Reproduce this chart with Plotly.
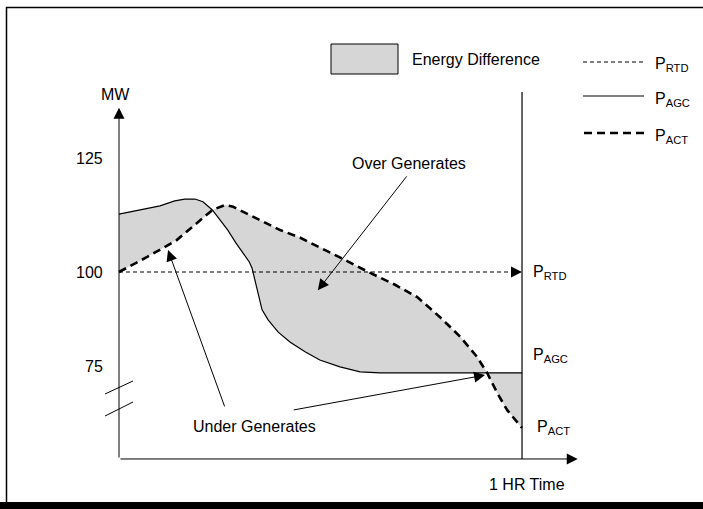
import plotly.graph_objects as go

# ---------------- data (time in minutes, power in MW) ----------------
t_agc = [0, 3.1, 6.1, 8.3, 9.8, 11.3, 12.5, 13.9, 15.0, 16.2, 17.4, 18.5, 19.4, 19.8,
         20.3, 20.7, 21.3, 22.2, 23.7, 25.5, 27.7, 29.9, 32.9, 35.9, 38.9, 54.8, 60]
p_agc = [112.7, 113.6, 114.5, 115.6, 116.0, 116.0, 115.4, 113.6, 111.4, 109.2, 106.4, 104.2,
         102.2, 100.9, 97.6, 95.0, 91.7, 89.5, 86.8, 84.6, 82.5, 80.7, 79.2, 78.1, 77.9, 77.9, 77.9]

t_act = [0, 4.2, 8.6, 11.3, 13.9, 15.8, 17.0, 20.0, 24.0, 27.0, 31.4, 33.7, 37.4, 41.1,
         44.4, 47.8, 50.8, 53.3, 54.8, 56.3, 57.8, 60]
p_act = [100.0, 103.3, 107.0, 110.3, 113.6, 114.7, 114.3, 112.1, 109.2, 107.5, 104.4, 102.6,
         99.8, 97.2, 94.5, 90.1, 85.8, 81.4, 77.9, 73.5, 69.7, 65.8]

p_rtd = 100
t_end = 60
ytick_text = ["125", "100", "75"]
ytick_pos = [125, 100, 79.2]

# ---------------- layout helpers ----------------
W, H = 703, 509
FONT = "Liberation Sans, Arial, sans-serif"
X_RANGE = [-17.716, 86.944]
Y_RANGE = [48.03, 159.65]
Y_BASE = 59.0
Y_TOP = 136.0
X_TIP = 68.3


def px(xp):
    return xp / W


def py(yp):
    return 1 - yp / H


fig = go.Figure()

# energy difference fill between AGC and ACT
fig.add_trace(go.Scatter(
    x=t_agc + t_act[::-1], y=p_agc + p_act[::-1],
    fill="toself", fillcolor="#d6d6d6", mode="none", hoverinfo="skip"))

# P_RTD
fig.add_trace(go.Scatter(x=[0, t_end - 1.5], y=[p_rtd, p_rtd], mode="lines",
                         line=dict(color="black", width=1, dash="4px,3px")))
# P_AGC
fig.add_trace(go.Scatter(x=t_agc, y=p_agc, mode="lines",
                         line=dict(color="black", width=1.2)))
# P_ACT
fig.add_trace(go.Scatter(x=t_act, y=p_act, mode="lines",
                         line=dict(color="black", width=2.6, dash="8px,5px")))

shapes = []
# 1 HR vertical line
shapes.append(dict(type="line", xref="x", yref="y", x0=t_end, x1=t_end, y0=Y_BASE, y1=139.5,
                   line=dict(color="black", width=1.2)))
# axis break slashes
for y0, y1 in [(73.25, 76.1), (68.42, 71.49)]:
    shapes.append(dict(type="line", xref="x", yref="y", x0=-2.08, x1=2.08, y0=y0, y1=y1,
                       line=dict(color="black", width=1)))
# frame
shapes.append(dict(type="line", xref="paper", yref="paper", x0=px(6.5), x1=px(6.5),
                   y0=py(7), y1=py(502), line=dict(color="black", width=1.5)))
shapes.append(dict(type="line", xref="paper", yref="paper", x0=px(6), x1=1,
                   y0=py(7.5), y1=py(7.5), line=dict(color="black", width=1.5)))
shapes.append(dict(type="rect", xref="paper", yref="paper", x0=0, x1=1,
                   y0=0, y1=py(502), fillcolor="black", line=dict(width=0)))
# legend
shapes.append(dict(type="rect", xref="paper", yref="paper", x0=px(331), x1=px(398),
                   y0=py(74), y1=py(44), fillcolor="#d6d6d6", line=dict(color="black", width=1)))
shapes.append(dict(type="line", xref="paper", yref="paper", x0=px(583), x1=px(643),
                   y0=py(62), y1=py(62), line=dict(color="black", width=1, dash="4px,3px")))
shapes.append(dict(type="line", xref="paper", yref="paper", x0=px(583), x1=px(644),
                   y0=py(96), y1=py(96), line=dict(color="black", width=1.2)))
shapes.append(dict(type="line", xref="paper", yref="paper", x0=px(584), x1=px(646),
                   y0=py(133), y1=py(133), line=dict(color="black", width=2.6, dash="8px,5px")))

ann = []


def arrow(x, y, ax, ay, size=2.2):
    ann.append(dict(x=x, y=y, ax=ax, ay=ay, xref="x", yref="y", axref="x", ayref="y",
                    text="", showarrow=True, arrowhead=2, arrowsize=size, arrowwidth=1,
                    arrowcolor="black", standoff=0, startstandoff=0))


# axes
arrow(0, Y_TOP, 0, Y_BASE)
arrow(X_TIP, Y_BASE, 0, Y_BASE)
# RTD arrowhead
arrow(t_end, p_rtd, t_end - 1.8, p_rtd)
# pointer arrows
arrow(29.6, 96.0, 43.0, 121.3)
arrow(7.3, 104.8, 15.8, 70.2)
arrow(54.5, 77.4, 25.8, 69.7)


def text(x, y, s, xanchor="center", xref="x", yref="y", size=16):
    ann.append(dict(x=x, y=y, xref=xref, yref=yref, text=s, showarrow=False,
                    xanchor=xanchor, yanchor="middle",
                    font=dict(family=FONT, size=size, color="black")))


for lab, pos in zip(ytick_text, ytick_pos):
    ann.append(dict(x=0, y=pos, xref="x", yref="y", text=lab, showarrow=False,
                    xanchor="right", yanchor="middle", xshift=-14,
                    font=dict(family=FONT, size=16, color="black")))
ann.append(dict(x=0, y=139.0, xref="x", yref="y", text="MW", showarrow=False,
                xanchor="center", yanchor="middle", xshift=-4,
                font=dict(family=FONT, size=16, color="black")))

text(43.2, 123.7, "Over Generates")
text(20.1, 66.2, "Under Generates")
text(66.7, 53.3, "1 HR Time", xanchor="right")
text(61.3, 99.8, "P<sub>RTD</sub>", xanchor="left")
text(61.3, 81.6, "P<sub>AGC</sub>", xanchor="left")
text(61.9, 66.0, "P<sub>ACT</sub>", xanchor="left")

# legend text
text(px(410), py(59), "Energy Difference", xanchor="left", xref="paper", yref="paper")
text(px(653), py(64), "P<sub>RTD</sub>", xanchor="left", xref="paper", yref="paper")
text(px(653), py(99), "P<sub>AGC</sub>", xanchor="left", xref="paper", yref="paper")
text(px(653), py(136), "P<sub>ACT</sub>", xanchor="left", xref="paper", yref="paper")

fig.update_layout(
    width=W, height=H, margin=dict(l=0, r=0, t=0, b=0),
    paper_bgcolor="white", plot_bgcolor="white", showlegend=False,
    xaxis=dict(range=X_RANGE, visible=False, fixedrange=True),
    yaxis=dict(range=Y_RANGE, visible=False, fixedrange=True),
    shapes=shapes, annotations=ann,
    font=dict(family=FONT, size=16, color="black"),
)

fig.write_html("out.html", config={"displayModeBar": False},
               post_script="document.body.style.margin='0px';document.body.style.overflow='hidden';")
